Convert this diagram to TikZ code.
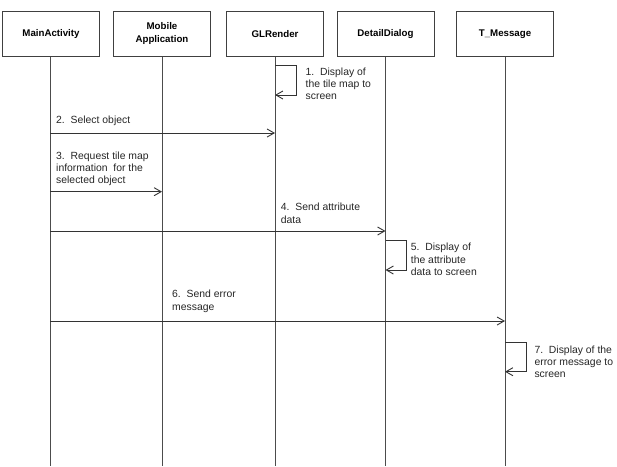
\documentclass[tikz,border=0pt]{standalone}
\usepackage{fontspec}
\setmainfont{Liberation Sans}
\usetikzlibrary{arrows.meta}
\begin{document}
\begin{tikzpicture}[x=1pt,y=-1pt,
  obj/.style={draw=black!75, line width=0.9pt, minimum width=97pt, minimum height=45pt, inner sep=1pt,
    font=\fontsize{9.7}{13}\selectfont\bfseries, align=center},
  life/.style={draw=black!70, line width=0.9pt},
  msg/.style={draw=black!80, line width=0.9pt, -{Straight Barb[length=7pt,width=8pt]}},
  lbl/.style={anchor=north west, inner sep=0pt, font=\fontsize{10.4}{12.3}\selectfont, align=left, text=black!85}]
\useasboundingbox (0,0) rectangle (617,466);
% objects
\node[obj] (ma) at (51,33.7) {MainActivity};
\node[obj] (mob) at (162,33.7) {Mobile\\Application};
\node[obj] (gl) at (275,33.7) {GLRender};
\node[obj] (dd) at (385.5,33.7) {DetailDialog};
\node[obj] (tm) at (505,33.7) {T\_Message};
% lifeline ends
\coordinate (maE) at (50,466);
\coordinate (mobE) at (162,466);
\coordinate (glE) at (275,466);
\coordinate (ddE) at (385.5,466);
\coordinate (tmE) at (505,466);
\draw[life] (ma.south -| maE) -- (maE);
\draw[life] (mob.south) -- (mobE);
\draw[life] (gl.south) -- (glE);
\draw[life] (dd.south) -- (ddE);
\draw[life] (tm.south) -- (tmE);
% message points
\coordinate (l1a) at (275,65);   \coordinate (l1b) at (275,95);
\coordinate (m2a) at (50,133);   \coordinate (m2b) at (275,133);
\coordinate (m3a) at (50,191.7); \coordinate (m3b) at (162,191.7);
\coordinate (m4a) at (50,231);   \coordinate (m4b) at (385.5,231);
\coordinate (l5a) at (385.5,240.7); \coordinate (l5b) at (385.5,270);
\coordinate (m6a) at (50,321);   \coordinate (m6b) at (505,321);
\coordinate (l7a) at (505,342.7); \coordinate (l7b) at (505,371.7);
% messages
\draw[msg] (l1a) -- ++(21.5,0) |- (l1b);
\draw[msg] (m2a) -- (m2b);
\draw[msg] (m3a) -- (m3b);
\draw[msg] (m4a) -- (m4b);
\draw[msg] (l5a) -- ++(20.5,0) |- (l5b);
\draw[msg] (m6a) -- (m6b);
\draw[msg] (l7a) -- ++(21,0) |- (l7b);
% labels
\node[lbl] (t1) at (305.5,67.5) {1.\ \ Display of\\the tile map to\\screen};
\node[lbl] (t2) at (56,116) {2.\ \ Select object};
\node[lbl] (t3) at (56,151.5) {3.\ \ Request tile map\\information\ \ for the\\selected object};
\node[lbl] (t4) at (280.7,203) {4.\ \ Send attribute\\data};
\node[lbl] (t5) at (410.7,243) {5.\ \ Display of\\the attribute\\data to screen};
\node[lbl] (t6) at (172,290) {6.\ \ Send error\\message};
\node[lbl] (t7) at (534.3,345.5) {7.\ \ Display of the\\error message to\\screen};
\end{tikzpicture}
\end{document}
